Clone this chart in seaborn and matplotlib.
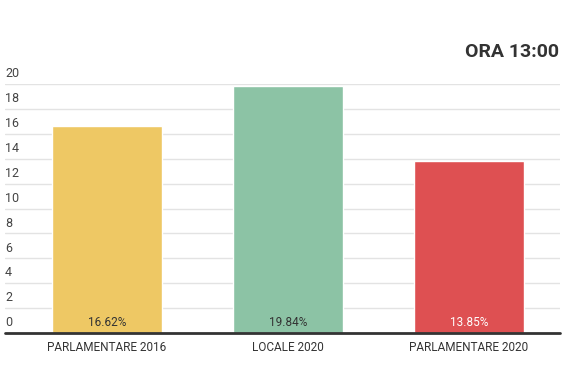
import pandas as pd
import matplotlib.pyplot as plt
import matplotlib.transforms as mtransforms
import seaborn as sns

categorie = ['PARLAMENTARE 2016', 'LOCALE 2020', 'PARLAMENTARE 2020']
affluenza = [16.62, 19.84, 13.85]
etichette = ['16.62%', '19.84%', '13.85%']
colori = ['#EEC864', '#8CC3A5', '#DE5052']
colori_testo = ['#333333', '#333333', '#FFFFFF']
yticks = [0, 2, 4, 6, 8, 10, 12, 14, 16, 18, 20]

df = pd.DataFrame({'categoria': categorie, 'valore': affluenza})

sns.set_style('white')
plt.rcParams['font.family'] = ['Roboto', 'DejaVu Sans']

fig = plt.figure(figsize=(5.75, 3.87), dpi=100)
ax = fig.add_axes([5 / 575, 54 / 387, 555 / 575, 249 / 387])

sns.barplot(data=df, x='categoria', y='valore', hue='categoria', palette=colori,
            width=0.61, legend=False, ax=ax, saturation=1)

ax.set_xlim(-0.564, 2.503)
ax.set_ylim(0, 20)
ax.set_xlabel('')
ax.set_ylabel('')

# griglia orizzontale e etichette sopra le linee
for t in yticks[1:]:
    ax.axhline(t, color='#e3e3e3', lw=1, zorder=0)
trans = mtransforms.blended_transform_factory(ax.transAxes, ax.transData)
for t in yticks:
    ax.text(0.0, t + 0.3, str(t), transform=trans, ha='left', va='bottom',
            fontsize=9, color='#444444', clip_on=False)
ax.set_yticks([])
ax.axhline(0, color='#333333', lw=2, zorder=5, clip_on=False)

for s in ax.spines.values():
    s.set_visible(False)

ax.tick_params(axis='x', length=0, pad=6, labelsize=8.5, labelcolor='#333333')

for i, (lab, c) in enumerate(zip(etichette, colori_testo)):
    ax.text(i, 0.3, lab, ha='center', va='bottom', fontsize=8.5, color=c, zorder=6)

fig.text(559 / 575, 1 - 52 / 387, 'ORA 13:00', ha='right', va='center',
         fontsize=14, fontweight='bold', color='#333333')

fig.savefig('out.png', dpi=100, facecolor='white')
